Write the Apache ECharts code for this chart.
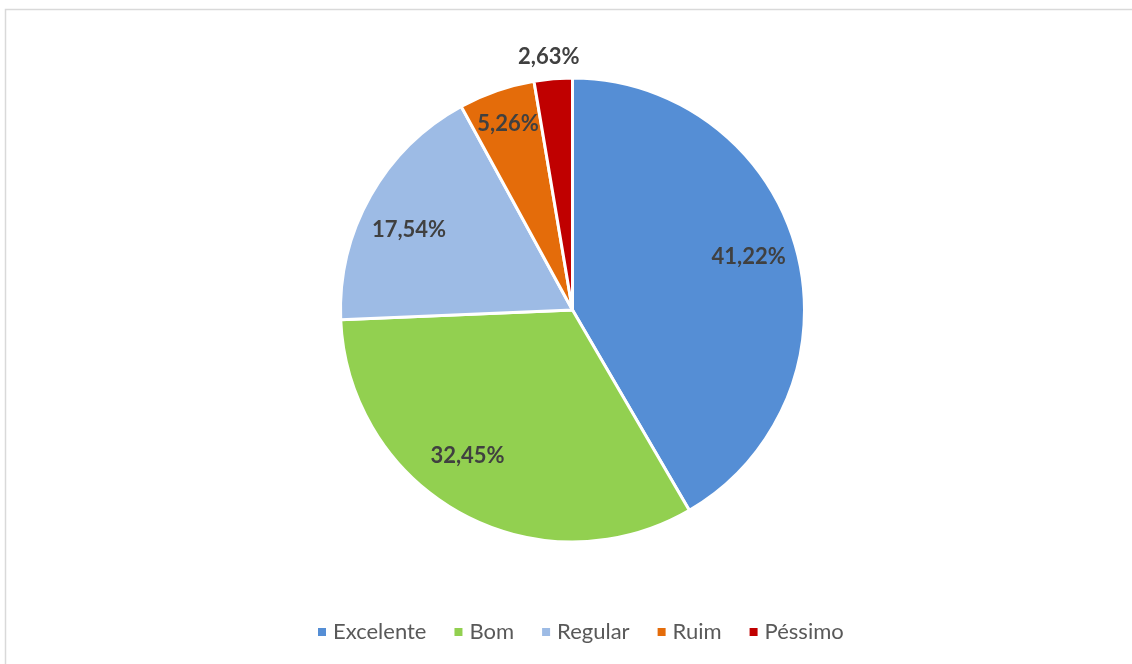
<!DOCTYPE html>
<html>
<head>
<meta charset="utf-8">
<script src="https://cdn.jsdelivr.net/npm/echarts@6/dist/echarts.min.js"></script>
<style>
  html, body { margin: 0; padding: 0; background: #ffffff; }
  #chart { width: 1132px; height: 664px; }
</style>
</head>
<body>
<div id="chart"></div>
<script>
// Avaliação: distribuição percentual das respostas
const categories = ['Excelente', 'Bom', 'Regular', 'Ruim', 'Péssimo'];
const percentages = [41.22, 32.45, 17.54, 5.26, 2.63];
const colors = ['#558ED5', '#92D050', '#9DBBE5', '#E46C0A', '#C00000'];

// Label placement: distance from centre and a small angular nudge (degrees)
const labelRadius = [184, 180, 182, 197, 254];
const labelTurn = [-1.7, 7, -3.4, 0, -0.6];

const pieCenter = [572.5, 310];
const pieRadius = 232;

const total = percentages.reduce((a, b) => a + b, 0);
function midAngle(i) {
  let start = 0;
  for (let k = 0; k < i; k++) start += percentages[k];
  return ((start + percentages[i] / 2) / total) * 360;
}

const chart = echarts.init(document.getElementById('chart'), null, { renderer: 'canvas' });

chart.setOption({
  backgroundColor: '#ffffff',
  animation: false,
  color: colors,
  graphic: [{
    type: 'rect',
    shape: { x: 5.5, y: 9.5, width: 1200, height: 700 },
    style: { fill: 'none', stroke: '#D9D9D9', lineWidth: 1.5 },
    silent: true
  }],
  legend: {
    bottom: 16,
    left: 311,
    icon: 'rect',
    itemWidth: 10,
    itemHeight: 10,
    itemGap: 26,
    textStyle: { color: '#595959', fontSize: 22, fontFamily: 'Lato, "Open Sans", sans-serif', padding: [0, 0, 0, 1] },
    data: categories
  },
  series: [{
    type: 'pie',
    center: pieCenter,
    radius: pieRadius,
    startAngle: 90,
    clockwise: true,
    avoidLabelOverlap: false,
    itemStyle: { borderColor: '#ffffff', borderWidth: 3 },
    label: {
      show: true,
      position: 'inside',
      formatter: p => p.value.toFixed(2).replace('.', ',') + '%',
      color: '#404040',
      fontSize: 22,
      fontWeight: 'bold',
      fontFamily: 'Lato, "Open Sans", sans-serif'
    },
    labelLine: { show: false },
    emphasis: { disabled: true },
    labelLayout: function (p) {
      const i = p.dataIndex;
      const a = (midAngle(i) + labelTurn[i]) * Math.PI / 180;
      return {
        x: pieCenter[0] + labelRadius[i] * Math.sin(a),
        y: pieCenter[1] - labelRadius[i] * Math.cos(a),
        align: 'center',
        verticalAlign: 'middle'
      };
    },
    data: categories.map((name, i) => ({ name: name, value: percentages[i] }))
  }]
});
</script>
</body>
</html>
